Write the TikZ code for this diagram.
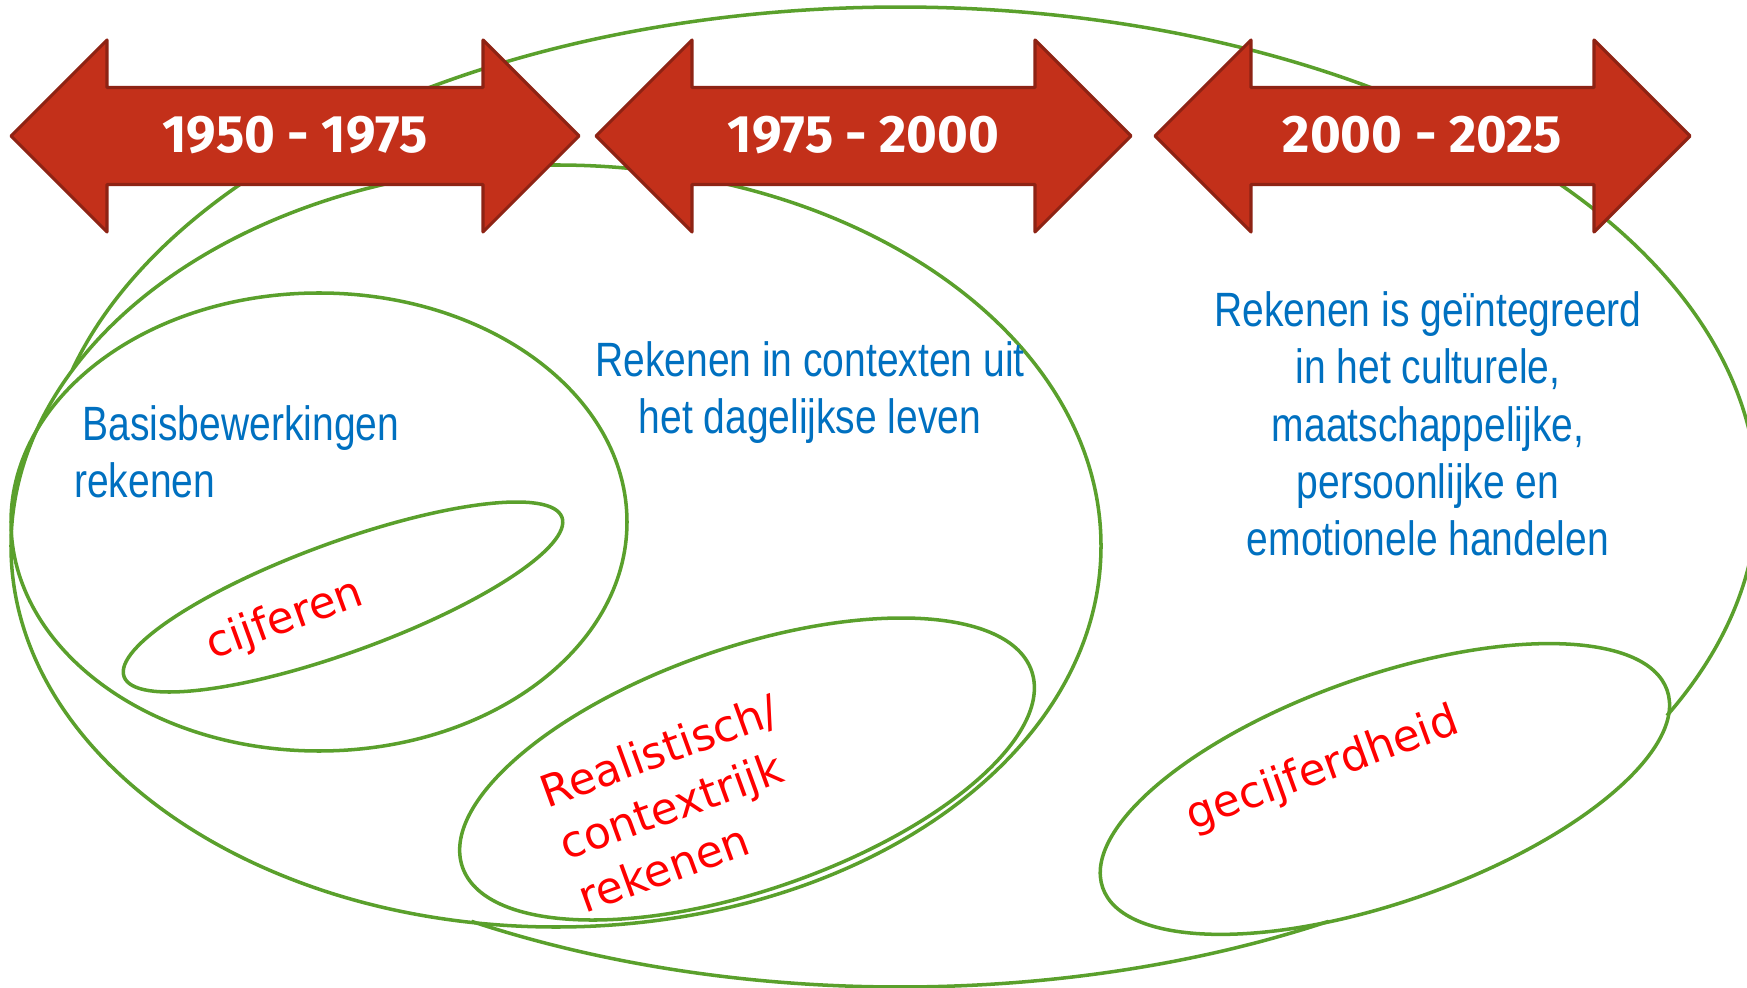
\documentclass[tikz,border=0pt]{standalone}
\usepackage{fontspec}
\usepackage{tikz}
\usetikzlibrary{positioning}
\newfontfamily\blueFont[FakeStretch=0.81]{Liberation Sans}
\newfontfamily\redFont{DejaVu Sans}
\newfontfamily\yearFont{Fira Sans}
\definecolor{arrowRed}{HTML}{C3301A}
\definecolor{arrowEdge}{HTML}{8E2314}
\definecolor{setGreen}{HTML}{5AA02C}
\definecolor{textBlue}{HTML}{0070C0}
\definecolor{textRed}{HTML}{FF0000}

\begin{document}
\begin{tikzpicture}[
GreenSet/.style={draw=setGreen,line width=1pt},
YearArrow/.style={draw=arrowEdge,fill=arrowRed,line width=0.9pt,line join=round},
YearText/.style={text=white,font=\yearFont\bfseries\fontsize{15}{18}\selectfont,inner sep=0},
BlueText/.style={text=textBlue,font=\blueFont\fontsize{13.7}{16.3}\selectfont,inner sep=0},
RedText/.style={text=textRed,font=\redFont\fontsize{12.5}{16}\selectfont,inner sep=0,rotate=20}
]

\useasboundingbox (0,0) rectangle (17.47,-9.88);

% centres of the sets
\coordinate (Alles) at (9.00,-4.97);
\coordinate (Context) at (5.56,-5.46);
\coordinate (Basis) at (3.19,-5.22);
\coordinate (Cijfer) at (3.43,-5.97);
\coordinate (Real) at (7.47,-7.69);
\coordinate (Gecijfer) at (13.85,-7.89);

% outer set: lower left part runs along the context set,
% lower right part along the gecijferdheid set
\draw[GreenSet] (Alles) ++(240:8.57 and 4.90)
  arc[start angle=240, end angle=300, x radius=8.57, y radius=4.90];
\draw[GreenSet] (Alles) ++(333.5:8.57 and 4.90)
  arc[start angle=333.5, end angle=525, x radius=8.57, y radius=4.90];

\draw[GreenSet] (Context) ellipse[x radius=5.45, y radius=3.81];
\draw[GreenSet] (Basis) ellipse[x radius=3.08, y radius=2.29];
\draw[GreenSet, rotate around={20:(Cijfer)}] (Cijfer) ellipse[x radius=2.33, y radius=0.55];
\draw[GreenSet, rotate around={19:(Real)}] (Real) ellipse[x radius=3.01, y radius=1.215];
\draw[GreenSet, rotate around={19.3:(Gecijfer)}] (Gecijfer) ellipse[x radius=2.99, y radius=1.13];

% the three periods
\foreach \xl/\xr/\name/\years in {0.11/5.79/periodA/1950 - 1975,
                                  5.96/11.31/periodB/1975 - 2000,
                                  11.55/16.90/periodC/2000 - 2025}
{
  \draw[YearArrow] (\xl,-1.36) -- (\xl+0.96,-0.40) -- (\xl+0.96,-0.875)
    -- (\xr-0.96,-0.875) -- (\xr-0.96,-0.40) -- (\xr,-1.36)
    -- (\xr-0.96,-2.32) -- (\xr-0.96,-1.845) -- (\xl+0.96,-1.845)
    -- (\xl+0.96,-2.32) -- cycle;
  \node[YearText] (\name) at ({(\xl+\xr)/2},-1.35) {\years};
}

% descriptions
\node[BlueText, align=left, anchor=north west] (basisText) at (0.735,-4.05)
  {\hspace*{2.4pt}Basisbewerkingen\\rekenen};
\node[BlueText, align=center] (contextText) at (8.10,-3.925)
  {Rekenen in contexten uit\\het dagelijkse leven};
\node[BlueText, align=center] (integraalText) at (14.28,-4.24)
  {Rekenen is geïntegreerd\\in het culturele,\\maatschappelijke,\\persoonlijke en\\emotionele handelen};

\node[RedText] (cijferText) at (2.85,-6.20) {cijferen};
\node[RedText, align=left] (realText) at (6.78,-8.03) {Realistisch/\\contextrijk\\rekenen};
\node[RedText] (gecijText) at (13.23,-7.70) {gecijferdheid};

\end{tikzpicture}
\end{document}
